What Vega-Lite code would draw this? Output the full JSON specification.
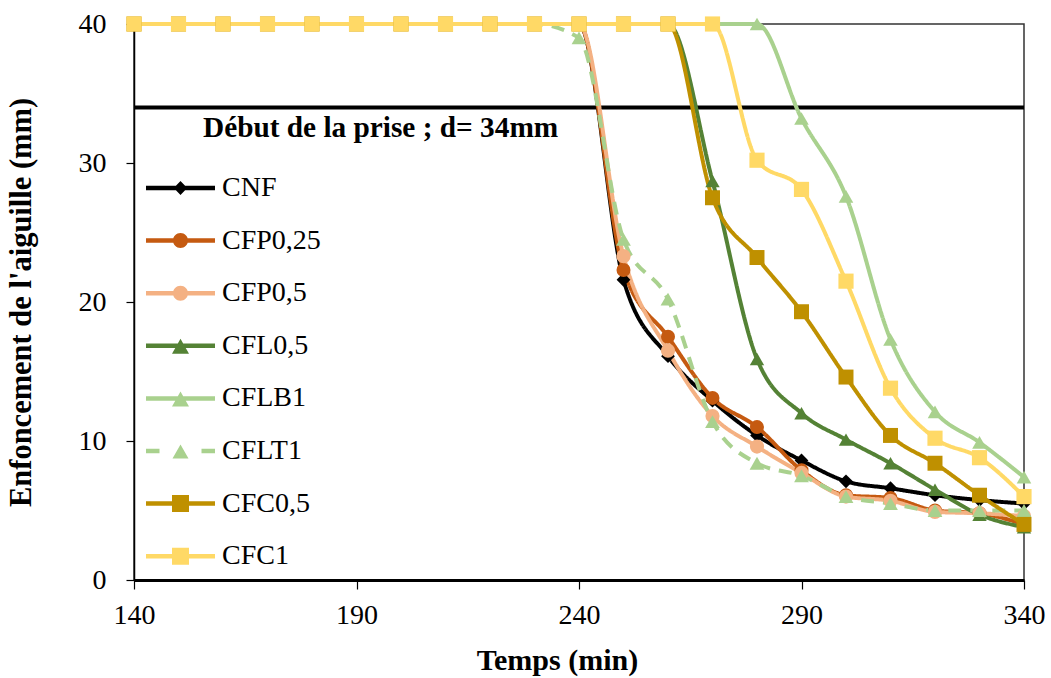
{
  "$schema": "https://vega.github.io/schema/vega-lite/v6.json",
  "width": 890,
  "height": 556,
  "autosize": "none",
  "padding": {"left": 134, "top": 24, "right": 27, "bottom": 98},
  "background": "white",
  "config": {
    "font": "Liberation Serif",
    "view": {"stroke": "#333333", "strokeWidth": 1.5}
  },
  "datasets": {
    "series": [
      {"s":"CNF","t":140,"d":40},{"s":"CNF","t":150,"d":40},{"s":"CNF","t":160,"d":40},{"s":"CNF","t":170,"d":40},{"s":"CNF","t":180,"d":40},{"s":"CNF","t":190,"d":40},{"s":"CNF","t":200,"d":40},{"s":"CNF","t":210,"d":40},{"s":"CNF","t":220,"d":40},{"s":"CNF","t":230,"d":40},{"s":"CNF","t":240,"d":40},{"s":"CNF","t":250,"d":21.6},{"s":"CNF","t":260,"d":16.1},{"s":"CNF","t":270,"d":12.9},{"s":"CNF","t":280,"d":10.4},{"s":"CNF","t":290,"d":8.6},{"s":"CNF","t":300,"d":7.1},{"s":"CNF","t":310,"d":6.6},{"s":"CNF","t":320,"d":6.1},{"s":"CNF","t":330,"d":5.75},{"s":"CNF","t":340,"d":5.5},
      {"s":"CFP0,25","t":140,"d":40},{"s":"CFP0,25","t":150,"d":40},{"s":"CFP0,25","t":160,"d":40},{"s":"CFP0,25","t":170,"d":40},{"s":"CFP0,25","t":180,"d":40},{"s":"CFP0,25","t":190,"d":40},{"s":"CFP0,25","t":200,"d":40},{"s":"CFP0,25","t":210,"d":40},{"s":"CFP0,25","t":220,"d":40},{"s":"CFP0,25","t":230,"d":40},{"s":"CFP0,25","t":240,"d":40},{"s":"CFP0,25","t":250,"d":22.3},{"s":"CFP0,25","t":260,"d":17.5},{"s":"CFP0,25","t":270,"d":13.1},{"s":"CFP0,25","t":280,"d":11.0},{"s":"CFP0,25","t":290,"d":7.9},{"s":"CFP0,25","t":300,"d":6.1},{"s":"CFP0,25","t":310,"d":5.9},{"s":"CFP0,25","t":320,"d":5.0},{"s":"CFP0,25","t":330,"d":4.8},{"s":"CFP0,25","t":340,"d":4.0},
      {"s":"CFP0,5","t":140,"d":40},{"s":"CFP0,5","t":150,"d":40},{"s":"CFP0,5","t":160,"d":40},{"s":"CFP0,5","t":170,"d":40},{"s":"CFP0,5","t":180,"d":40},{"s":"CFP0,5","t":190,"d":40},{"s":"CFP0,5","t":200,"d":40},{"s":"CFP0,5","t":210,"d":40},{"s":"CFP0,5","t":220,"d":40},{"s":"CFP0,5","t":230,"d":40},{"s":"CFP0,5","t":240,"d":40},{"s":"CFP0,5","t":250,"d":23.3},{"s":"CFP0,5","t":260,"d":16.5},{"s":"CFP0,5","t":270,"d":11.8},{"s":"CFP0,5","t":280,"d":9.6},{"s":"CFP0,5","t":290,"d":7.7},{"s":"CFP0,5","t":300,"d":6.0},{"s":"CFP0,5","t":310,"d":5.7},{"s":"CFP0,5","t":320,"d":4.9},{"s":"CFP0,5","t":330,"d":4.8},{"s":"CFP0,5","t":340,"d":4.6},
      {"s":"CFL0,5","t":140,"d":40},{"s":"CFL0,5","t":150,"d":40},{"s":"CFL0,5","t":160,"d":40},{"s":"CFL0,5","t":170,"d":40},{"s":"CFL0,5","t":180,"d":40},{"s":"CFL0,5","t":190,"d":40},{"s":"CFL0,5","t":200,"d":40},{"s":"CFL0,5","t":210,"d":40},{"s":"CFL0,5","t":220,"d":40},{"s":"CFL0,5","t":230,"d":40},{"s":"CFL0,5","t":240,"d":40},{"s":"CFL0,5","t":250,"d":40},{"s":"CFL0,5","t":260,"d":40},{"s":"CFL0,5","t":270,"d":28.7},{"s":"CFL0,5","t":280,"d":15.9},{"s":"CFL0,5","t":290,"d":12.0},{"s":"CFL0,5","t":300,"d":10.1},{"s":"CFL0,5","t":310,"d":8.4},{"s":"CFL0,5","t":320,"d":6.5},{"s":"CFL0,5","t":330,"d":4.7},{"s":"CFL0,5","t":340,"d":3.8},
      {"s":"CFLB1","t":140,"d":40},{"s":"CFLB1","t":150,"d":40},{"s":"CFLB1","t":160,"d":40},{"s":"CFLB1","t":170,"d":40},{"s":"CFLB1","t":180,"d":40},{"s":"CFLB1","t":190,"d":40},{"s":"CFLB1","t":200,"d":40},{"s":"CFLB1","t":210,"d":40},{"s":"CFLB1","t":220,"d":40},{"s":"CFLB1","t":230,"d":40},{"s":"CFLB1","t":240,"d":40},{"s":"CFLB1","t":250,"d":40},{"s":"CFLB1","t":260,"d":40},{"s":"CFLB1","t":270,"d":40},{"s":"CFLB1","t":280,"d":40},{"s":"CFLB1","t":290,"d":33.2},{"s":"CFLB1","t":300,"d":27.6},{"s":"CFLB1","t":310,"d":17.3},{"s":"CFLB1","t":320,"d":12.1},{"s":"CFLB1","t":330,"d":9.9},{"s":"CFLB1","t":340,"d":7.4},
      {"s":"CFLT1","t":140,"d":40},{"s":"CFLT1","t":150,"d":40},{"s":"CFLT1","t":160,"d":40},{"s":"CFLT1","t":170,"d":40},{"s":"CFLT1","t":180,"d":40},{"s":"CFLT1","t":190,"d":40},{"s":"CFLT1","t":200,"d":40},{"s":"CFLT1","t":210,"d":40},{"s":"CFLT1","t":220,"d":40},{"s":"CFLT1","t":230,"d":40},{"s":"CFLT1","t":240,"d":39.0},{"s":"CFLT1","t":250,"d":24.5},{"s":"CFLT1","t":260,"d":20.2},{"s":"CFLT1","t":270,"d":11.4},{"s":"CFLT1","t":280,"d":8.4},{"s":"CFLT1","t":290,"d":7.5},{"s":"CFLT1","t":300,"d":6.0},{"s":"CFLT1","t":310,"d":5.5},{"s":"CFLT1","t":320,"d":5.0},{"s":"CFLT1","t":330,"d":5.0},{"s":"CFLT1","t":340,"d":5.0},
      {"s":"CFC0,5","t":140,"d":40},{"s":"CFC0,5","t":150,"d":40},{"s":"CFC0,5","t":160,"d":40},{"s":"CFC0,5","t":170,"d":40},{"s":"CFC0,5","t":180,"d":40},{"s":"CFC0,5","t":190,"d":40},{"s":"CFC0,5","t":200,"d":40},{"s":"CFC0,5","t":210,"d":40},{"s":"CFC0,5","t":220,"d":40},{"s":"CFC0,5","t":230,"d":40},{"s":"CFC0,5","t":240,"d":40},{"s":"CFC0,5","t":250,"d":40},{"s":"CFC0,5","t":260,"d":40},{"s":"CFC0,5","t":270,"d":27.5},{"s":"CFC0,5","t":280,"d":23.2},{"s":"CFC0,5","t":290,"d":19.3},{"s":"CFC0,5","t":300,"d":14.6},{"s":"CFC0,5","t":310,"d":10.4},{"s":"CFC0,5","t":320,"d":8.4},{"s":"CFC0,5","t":330,"d":6.1},{"s":"CFC0,5","t":340,"d":4.0},
      {"s":"CFC1","t":140,"d":40},{"s":"CFC1","t":150,"d":40},{"s":"CFC1","t":160,"d":40},{"s":"CFC1","t":170,"d":40},{"s":"CFC1","t":180,"d":40},{"s":"CFC1","t":190,"d":40},{"s":"CFC1","t":200,"d":40},{"s":"CFC1","t":210,"d":40},{"s":"CFC1","t":220,"d":40},{"s":"CFC1","t":230,"d":40},{"s":"CFC1","t":240,"d":40},{"s":"CFC1","t":250,"d":40},{"s":"CFC1","t":260,"d":40},{"s":"CFC1","t":270,"d":40},{"s":"CFC1","t":280,"d":30.2},{"s":"CFC1","t":290,"d":28.1},{"s":"CFC1","t":300,"d":21.5},{"s":"CFC1","t":310,"d":13.8},{"s":"CFC1","t":320,"d":10.2},{"s":"CFC1","t":330,"d":8.8},{"s":"CFC1","t":340,"d":6.0}
    ],
    "ref": [{"d": 34, "t": 155.5, "ty": 31.87, "label": "Début de la prise ; d= 34mm"}]
  },
  "resolve": {"scale": {"shape": "independent", "size": "independent", "fill": "independent"}},
  "layer": [
    {
      "data": {"name": "ref"},
      "mark": {"type": "rule", "color": "black", "strokeWidth": 4},
      "encoding": {
        "y": {"field": "d", "type": "quantitative", "scale": {"domain": [0, 40], "nice": false}}
      }
    },
    {
      "data": {"name": "ref"},
      "mark": {"type": "text", "font": "Liberation Serif", "fontSize": 29.3, "fontWeight": "bold", "align": "left", "baseline": "alphabetic", "color": "black"},
      "encoding": {
        "x": {"field": "t", "type": "quantitative", "scale": {"domain": [140, 340], "nice": false}},
        "y": {"field": "ty", "type": "quantitative", "scale": {"domain": [0, 40], "nice": false}},
        "text": {"field": "label"}
      }
    },
    {
      "data": {"name": "series"},
      "mark": {"type": "line", "interpolate": "monotone", "strokeWidth": 4},
      "encoding": {
        "x": {"field": "t", "type": "quantitative", "scale": {"domain": [140, 340], "nice": false},
          "axis": {"title": "Temps (min)", "values": [140, 190, 240, 290, 340], "grid": false,
            "labelFont": "Liberation Serif", "labelFontSize": 28, "labelColor": "black", "labelPadding": 12,
            "labelFlush": false, "labelOverlap": false,
            "tickSize": 9, "tickColor": "black", "tickWidth": 1.2,
            "domainColor": "black", "domainWidth": 3,
            "titleFont": "Liberation Serif", "titleFontSize": 30, "titleFontWeight": "bold", "titleColor": "black", "titlePadding": 16, "titleX": 423,
            "encode": {"ticks": {"update": {"y": {"value": -9}, "y2": {"value": 9}}}}}},
        "y": {"field": "d", "type": "quantitative", "scale": {"domain": [0, 40], "nice": false},
          "axis": {"title": "Enfoncement de l'aiguille (mm)", "values": [0, 10, 20, 30, 40], "grid": false,
            "labelFont": "Liberation Serif", "labelFontSize": 28, "labelColor": "black", "labelPadding": 20,
            "labelFlush": false, "labelOverlap": false,
            "tickSize": 8, "tickColor": "black", "tickWidth": 1.2,
            "domainColor": "black", "domainWidth": 1.5,
            "titleFont": "Liberation Serif", "titleFontSize": 30.5, "titleFontWeight": "bold", "titleColor": "black", "titlePadding": 42,
            "encode": {"ticks": {"update": {"x": {"value": 8}, "x2": {"value": -8}}}}}},
        "color": {"field": "s", "type": "nominal", "legend": null,
          "scale": {"domain": ["CNF", "CFP0,25", "CFP0,5", "CFL0,5", "CFLB1", "CFLT1", "CFC0,5", "CFC1"],
            "range": ["#000000", "#C55A11", "#F4B183", "#548235", "#A9D18E", "#A9D18E", "#BF9000", "#FFD966"]}},
        "strokeDash": {"field": "s", "type": "nominal", "legend": null,
          "scale": {"domain": ["CNF", "CFP0,25", "CFP0,5", "CFL0,5", "CFLB1", "CFLT1", "CFC0,5", "CFC1"],
            "range": [[1, 0], [1, 0], [1, 0], [1, 0], [1, 0], [13, 9], [1, 0], [1, 0]]}}
      }
    },
    {
      "data": {"name": "series"},
      "mark": {"type": "point", "filled": true, "opacity": 1, "strokeWidth": 0},
      "encoding": {
        "x": {"field": "t", "type": "quantitative"},
        "y": {"field": "d", "type": "quantitative"},
        "color": {"field": "s", "type": "nominal", "legend": null},
        "shape": {"field": "s", "type": "nominal", "legend": null,
          "scale": {"domain": ["CNF", "CFP0,25", "CFP0,5", "CFL0,5", "CFLB1", "CFLT1", "CFC0,5", "CFC1"],
            "range": ["diamond", "circle", "circle", "triangle-up", "triangle-up", "triangle-up", "square", "square"]}},
        "size": {"field": "s", "type": "nominal", "legend": null,
          "scale": {"domain": ["CNF", "CFP0,25", "CFP0,5", "CFL0,5", "CFLB1", "CFLT1", "CFC0,5", "CFC1"],
            "range": [190, 230, 230, 380, 400, 170, 400, 400]}}
      }
    },
    {
      "data": {"name": "series"},
      "mark": {"type": "point", "filled": true, "opacity": 0, "strokeWidth": 0},
      "encoding": {
        "x": {"field": "t", "type": "quantitative"},
        "y": {"field": "d", "type": "quantitative"},
        "fill": {"field": "s", "type": "nominal",
          "scale": {"domain": ["CNF", "CFP0,25", "CFP0,5", "CFL0,5", "CFLB1", "CFLT1", "CFC0,5", "CFC1"],
            "range": ["#000000", "#C55A11", "#F4B183", "#548235", "#A9D18E", "#A9D18E", "#BF9000", "#FFD966"]},
          "legend": {"title": null, "orient": "none", "legendX": 32.5, "legendY": 150, "direction": "vertical",
            "symbolSize": 100, "symbolStrokeWidth": 0, "symbolOpacity": 1, "symbolOffset": 0,
            "labelFont": "Liberation Serif", "labelFontSize": 28, "labelColor": "black", "labelOffset": 27.5,
            "labelLimit": 300, "rowPadding": 24.6, "padding": 0}},
        "shape": {"field": "s", "type": "nominal",
          "scale": {"domain": ["CNF", "CFP0,25", "CFP0,5", "CFL0,5", "CFLB1", "CFLT1", "CFC0,5", "CFC1"],
            "range": [
              "M-6.9,-0.45H6.9V0.45H-6.9Z M0,-1.4L1.35,0L0,1.4L-1.35,0Z",
              "M-6.9,-0.45H6.9V0.45H-6.9Z M-1.5,0A1.5,1.5 0 1,1 1.5,0A1.5,1.5 0 1,1 -1.5,0Z",
              "M-6.9,-0.45H6.9V0.45H-6.9Z M-1.5,0A1.5,1.5 0 1,1 1.5,0A1.5,1.5 0 1,1 -1.5,0Z",
              "M-6.9,-0.45H6.9V0.45H-6.9Z M0,-1.4L1.7,1.6L-1.7,1.6Z",
              "M-6.9,-0.45H6.9V0.45H-6.9Z M0,-1.4L1.7,1.6L-1.7,1.6Z",
              "M-6.9,-0.45H-4.2V0.45H-6.9Z M4.2,-0.45H6.9V0.45H4.2Z M0,-1.3L1.6,1.5L-1.6,1.5Z",
              "M-6.9,-0.45H6.9V0.45H-6.9Z M-1.7,-1.7H1.7V1.7H-1.7Z",
              "M-6.9,-0.45H6.9V0.45H-6.9Z M-1.7,-1.7H1.7V1.7H-1.7Z"
            ]},
          "legend": {"title": null, "orient": "none", "legendX": 32.5, "legendY": 150, "direction": "vertical",
            "symbolSize": 100, "symbolStrokeWidth": 0, "symbolOpacity": 1, "symbolOffset": 0,
            "labelFont": "Liberation Serif", "labelFontSize": 28, "labelColor": "black", "labelOffset": 27.5,
            "labelLimit": 300, "rowPadding": 24.6, "padding": 0}
        }
      }
    }
  ]
}
